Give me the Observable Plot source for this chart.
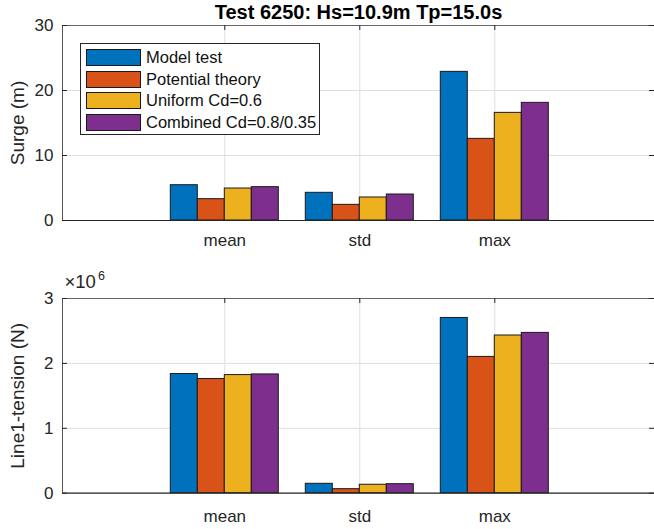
<!DOCTYPE html>
<html>
<head>
<meta charset="utf-8">
<script src="https://cdn.jsdelivr.net/npm/d3@7"></script>
<script src="https://cdn.jsdelivr.net/npm/@observablehq/plot@0.6"></script>
<style>
  html, body { margin: 0; padding: 0; background: white; }
  #wrap { position: relative; width: 654px; height: 529px; overflow: hidden; font-family: "Liberation Sans", Arial, sans-serif; color: #262626; }
  #top, #bottom { position: absolute; left: 0; }
  #top { top: 0; }
  #bottom { top: 260px; }
  #legend { position: absolute; left: 80px; top: 43px; width: 240px; height: 92px; border: 1px solid #262626; background: white; box-sizing: border-box; }
  .row { position: absolute; left: 5px; height: 17px; display: flex; align-items: center; }
  .sw { width: 53px; height: 15px; border: 1px solid #1a1a1a; margin-right: 5px; }
  .lb { font-size: 16.5px; color: #111; white-space: nowrap; }
</style>
</head>
<body>
<div id="wrap">
  <div id="top"></div>
  <div id="bottom"></div>
  <div id="legend"></div>
</div>
<script>
// ---- data ----
const title = "Test 6250: Hs=10.9m Tp=15.0s";
const categories = ["mean", "std", "max"];
const series = ["Model test", "Potential theory", "Uniform Cd=0.6", "Combined Cd=0.8/0.35"];
const colors = ["#0072BD", "#D95319", "#EDB120", "#7E2F8E"];

const surgeModel = [5.43, 4.26, 22.87];
const surgePotential = [3.28, 2.41, 12.56];
const surgeUniform = [4.92, 3.54, 16.56];
const surgeCombined = [5.13, 4.0, 18.1];

const tensionModel = [1.836e6, 0.145e6, 2.70e6];
const tensionPotential = [1.76e6, 0.062e6, 2.10e6];
const tensionUniform = [1.82e6, 0.13e6, 2.43e6];
const tensionCombined = [1.83e6, 0.139e6, 2.47e6];

const surgeTicks = [0, 10, 20, 30];
const tensionTicks = [0, 1e6, 2e6, 3e6];
const surgeLabel = "Surge (m)";
const tensionLabel = "Line1-tension (N)";
const exponentBase = "\u00d710";
const exponentPower = "6";

// ---- build ----
const catPos = categories.map((c, j) => j + 1);
const barW = 0.2;
function rows(valuesBySeries) {
  const out = [];
  valuesBySeries.forEach((vals, i) => {
    vals.forEach((v, j) => {
      const c = catPos[j] + (i - 1.5) * barW;
      out.push({series: series[i], x1: c - barW / 2, x2: c + barW / 2, value: v});
    });
  });
  return out;
}
const surgeData = rows([surgeModel, surgePotential, surgeUniform, surgeCombined]);
const tensionData = rows([tensionModel, tensionPotential, tensionUniform, tensionCombined]);

const W = 654, ML = 62, MR = 0;
const xDomain = [-0.2022, 4.183];
const axisColor = "#262626";
const gridColor = "#dfdfdf";

function panel({data, height, mt, mb, yDomain, yTicks, yFmt, label, extra = [], xPad}) {
  const fw = W - ML - MR;
  const fh = height - mt - mb;
  return Plot.plot({
    width: W, height,
    marginLeft: ML, marginRight: MR, marginTop: mt, marginBottom: mb,
    style: {fontFamily: "'Liberation Sans', Arial, sans-serif", fontSize: "17px", color: axisColor, background: "white", overflow: "visible"},
    x: {type: "linear", domain: xDomain, axis: null},
    y: {domain: yDomain, axis: null},
    color: {domain: series, range: colors},
    marks: [
      Plot.gridX(catPos, {stroke: gridColor, strokeOpacity: 1}),
      Plot.gridY(yTicks, {stroke: gridColor, strokeOpacity: 1}),
      Plot.rectY(data, {x1: "x1", x2: "x2", y1: 0, y2: "value", fill: "series", stroke: "#1a1a1a", strokeWidth: 1}),
      Plot.ruleX([xDomain[0]], {stroke: "#555", strokeWidth: 1}),
      Plot.ruleY([yDomain[1]], {stroke: "#666", strokeWidth: 1}),
      Plot.ruleY([yDomain[0]], {stroke: axisColor, strokeWidth: 1.2}),
      Plot.tickY(yTicks, {stroke: axisColor, insetRight: fw - 5}),
      Plot.tickY(yTicks, {stroke: axisColor, insetLeft: fw - 5}),
      Plot.tickX(catPos, {stroke: axisColor, insetBottom: fh - 5}),
      Plot.axisY(yTicks, {tickSize: 0, tickPadding: 9, tickFormat: yFmt, fontSize: 17, fill: axisColor, label: null}),
      Plot.axisX(catPos, {tickSize: 0, tickPadding: xPad, tickFormat: d => categories[d - 1], fontSize: 17, fill: axisColor, label: null}),
      Plot.text([label], {frameAnchor: "left", dx: -45, rotate: -90, fontSize: 19, fill: axisColor, textAnchor: "middle", lineAnchor: "middle"}),
      ...extra
    ]
  });
}

const topPlot = panel({
  data: surgeData, height: 260, mt: 25, mb: 40,
  yDomain: [0, 30], yTicks: surgeTicks, yFmt: d => String(d), label: surgeLabel, xPad: 13,
  extra: [
    Plot.text([title], {frameAnchor: "top", dy: -13, fontSize: 20, fontWeight: "bold", fill: "#000", lineAnchor: "middle"})
  ]
});
document.getElementById("top").appendChild(topPlot);

const bottomPlot = panel({
  data: tensionData, height: 269, mt: 38, mb: 36.3,
  yDomain: [0, 3e6], yTicks: tensionTicks, yFmt: d => String(d / 1e6), label: tensionLabel, xPad: 17,
  extra: [
    Plot.text([exponentBase], {frameAnchor: "top-left", dx: 2, dy: -11, fontSize: 18.5, fill: axisColor, textAnchor: "start", lineAnchor: "bottom"}),
    Plot.text([exponentPower], {frameAnchor: "top-left", dx: 35.5, dy: -19, fontSize: 12.5, fill: axisColor, textAnchor: "start", lineAnchor: "bottom"})
  ]
});
document.getElementById("bottom").appendChild(bottomPlot);

// legend
const legend = document.getElementById("legend");
series.forEach((s, i) => {
  const r = document.createElement("div");
  r.className = "row";
  r.style.top = (5 + i * 21.6) + "px";
  const sw = document.createElement("div");
  sw.className = "sw";
  sw.style.background = colors[i];
  const lb = document.createElement("span");
  lb.className = "lb";
  lb.textContent = s;
  r.appendChild(sw);
  r.appendChild(lb);
  legend.appendChild(r);
});
</script>
</body>
</html>
